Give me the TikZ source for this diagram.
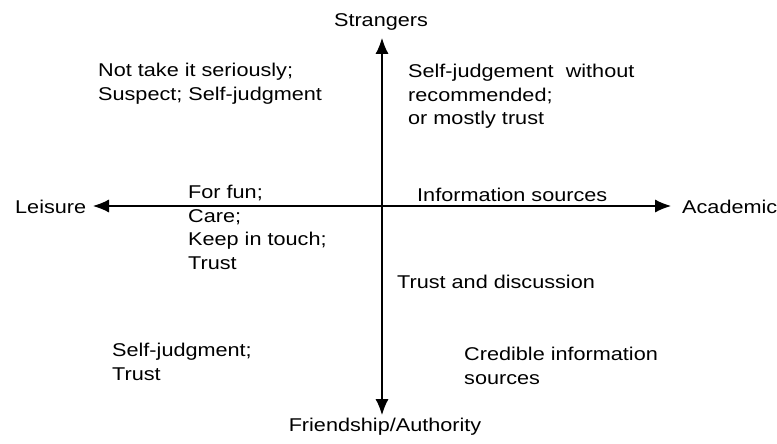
\documentclass[tikz,border=0pt]{standalone}
\usepackage{fontspec}
\setmainfont{Liberation Sans}[FakeStretch=1.17]
\usetikzlibrary{positioning,arrows.meta}

\begin{document}
\begin{tikzpicture}[x=1pt, y=-1pt,
  axis/.style={line width=1.1pt, {Latex[length=16pt,width=13pt]}-{Latex[length=16pt,width=13pt]}},
  quadtext/.style={anchor=north west, align=left, inner sep=0pt, font=\fontsize{18.5}{23.5}\selectfont},
  pole/.style={inner sep=0pt, font=\fontsize{18.5}{23.5}\selectfont}
  ]
  \useasboundingbox (0,0) rectangle (777,444);

  % axis ends
  \coordinate (west) at (93,206);
  \coordinate (east) at (671,206);
  \coordinate (north) at (382,38);
  \coordinate (south) at (382,415);

  \draw[axis] (west) -- (east);
  \draw[axis] (north) -- (south);

  % poles
  \node[pole, anchor=west] (leisure) at (15,207) {Leisure};
  \node[pole, anchor=west] (academic) at (682,207) {Academic};
  \node[pole, anchor=north] (strangers) at (381,13) {Strangers};
  \node[pole, anchor=north] (friendship) at (385,418) {Friendship/Authority};

  % quadrants
  \node[quadtext] (leisstr) at (98,63) {Not take it seriously;\\Suspect; Self-judgment};
  \node[quadtext] (acadstr) at (408,64) {Self-judgement\ \ without\\recommended;\\or mostly trust};
  \node[quadtext] (leismid) at (188,185) {For fun;\\Care;\\Keep in touch;\\Trust};
  \node[quadtext] (acadmid) at (417,188) {Information sources};
  \node[quadtext] (acaddisc) at (397,275) {Trust and discussion};
  \node[quadtext] (leisfri) at (112,343) {Self-judgment;\\Trust};
  \node[quadtext] (acadfri) at (464,347) {Credible information\\sources};

\end{tikzpicture}
\end{document}
